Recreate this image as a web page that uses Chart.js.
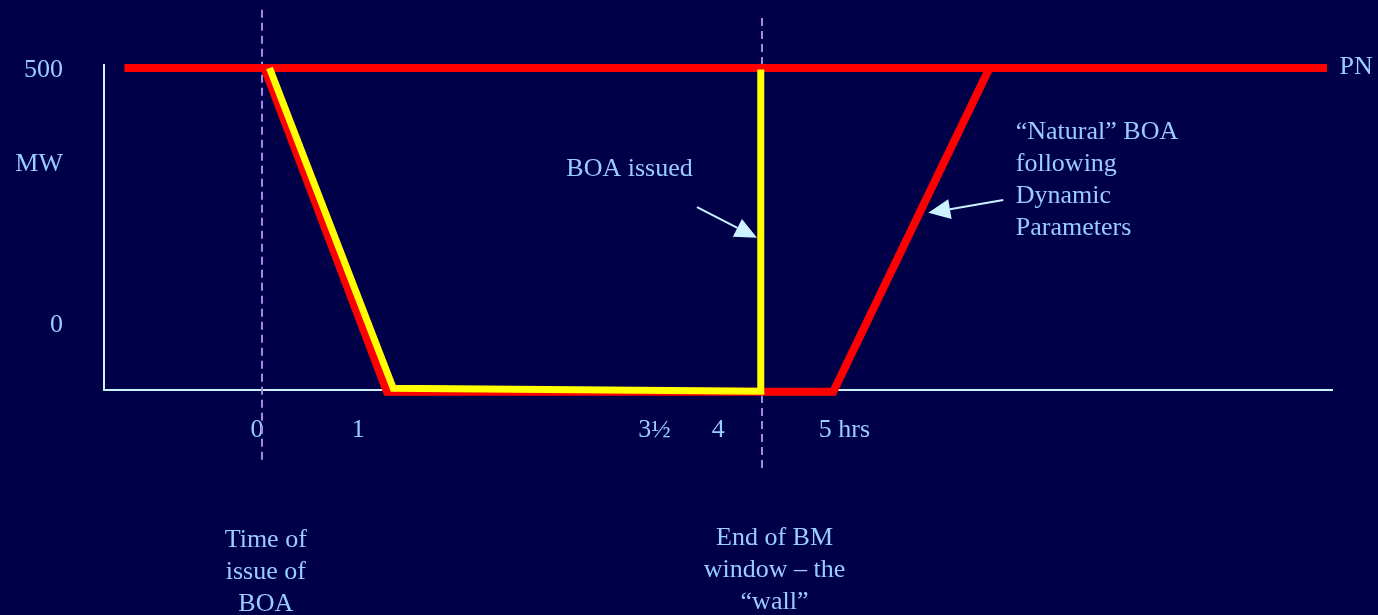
<!DOCTYPE html>
<html>
<head>
<meta charset="utf-8">
<script src="https://cdn.jsdelivr.net/npm/chart.js@4/dist/chart.umd.min.js"></script>
<style>
  html, body { margin: 0; padding: 0; background: #000048; }
  #wrap { width: 1378px; height: 615px; }
</style>
</head>
<body>
<div id="wrap"><canvas id="chart" width="1378" height="615"></canvas></div>
<script>
// Time axis in hours, output in MW
const pnHours = [-1.1, 8.52];
const pnMW = [500, 500];

// "natural" BOA following dynamic parameters (red)
const naturalHours = [0.02, 1.0, 4.57, 5.82];
const naturalMW = [500, -135, -135, 500];

// BOA as issued, cut off at the wall (yellow)
const boaHours = [0.06, 1.05, 3.99, 3.99];
const boaMW = [500, -128, -134, 497];

// tick labels
const xTickValues = [-0.04, 0.77, 3.14, 3.65, 4.66];
const xTickLabels = ['0', '1', '3½', '4', '5 hrs'];
const yTickValues = [0, 316, 500];
const yTickLabels = ['0', 'MW', '500'];

// vertical markers: time of issue, end of BM window
const markerHours = [0, 4];

const TEXT = '#99ccff';
const AXIS = '#ccf2ff';
const FONT = '"Liberation Serif", "Times New Roman", serif';

const toPts = (xs, ys) => xs.map((x, i) => ({ x: x, y: ys[i] }));

const notes = [
  { x: 2.94, y: 302, lines: ['BOA issued'], align: 'center' },
  { x: 8.62, y: 501, lines: ['PN'], align: 'left' },
  { x: 6.03, y: 375, lines: ['\u201cNatural\u201d BOA', 'following', 'Dynamic', 'Parameters'], align: 'left' },
  { x: 0.03, y: -426, lines: ['Time of', 'issue of', 'BOA'], align: 'center' },
  { x: 4.1, y: -422, lines: ['End of BM', 'window \u2013 the', '\u201cwall\u201d'], align: 'center' }
];

const arrows = [
  { from: [3.48, 227], to: [3.96, 167] },
  { from: [5.93, 241], to: [5.33, 216] }
];

const diagram = {
  id: 'diagram',
  beforeDraw(chart) {
    const c = chart.ctx;
    c.save();
    c.fillStyle = '#000048';
    c.fillRect(0, 0, chart.width, chart.height);
    c.restore();
  },
  beforeDatasetsDraw(chart) {
    const c = chart.ctx, xs = chart.scales.x, ys = chart.scales.y;
    c.save();
    c.strokeStyle = '#a884ea';
    c.lineWidth = 2;
    c.setLineDash([8, 5]);
    markerHours.forEach((h, i) => {
      const px = Math.round(xs.getPixelForValue(h));
      c.beginPath();
      c.moveTo(px, ys.getPixelForValue(i === 0 ? 614 : 598));
      c.lineTo(px, ys.getPixelForValue(i === 0 ? -275 : -289));
      c.stroke();
    });
    c.restore();
  },
  afterDraw(chart) {
    const c = chart.ctx, xs = chart.scales.x, ys = chart.scales.y;
    c.save();
    // arrows
    c.strokeStyle = AXIS;
    c.fillStyle = AXIS;
    c.lineWidth = 2;
    arrows.forEach(a => {
      const x1 = xs.getPixelForValue(a.from[0]), y1 = ys.getPixelForValue(a.from[1]);
      const x2 = xs.getPixelForValue(a.to[0]), y2 = ys.getPixelForValue(a.to[1]);
      const ang = Math.atan2(y2 - y1, x2 - x1);
      const len = 22, half = 10;
      const bx = x2 - len * Math.cos(ang), by = y2 - len * Math.sin(ang);
      c.beginPath();
      c.moveTo(x1, y1);
      c.lineTo(bx, by);
      c.stroke();
      c.beginPath();
      c.moveTo(x2, y2);
      c.lineTo(bx + half * Math.sin(ang), by - half * Math.cos(ang));
      c.lineTo(bx - half * Math.sin(ang), by + half * Math.cos(ang));
      c.closePath();
      c.fill();
    });
    // text notes
    c.fillStyle = TEXT;
    c.font = '26px ' + FONT;
    c.textBaseline = 'middle';
    notes.forEach(n => {
      c.textAlign = n.align;
      const px = xs.getPixelForValue(n.x);
      const py = ys.getPixelForValue(n.y);
      n.lines.forEach((t, i) => c.fillText(t, px, py + i * 32));
    });
    c.restore();
  }
};

new Chart(document.getElementById('chart'), {
  type: 'line',
  data: {
    datasets: [
      { data: toPts(pnHours, pnMW), borderColor: '#ff0000', borderWidth: 8, borderCapStyle: 'butt', clip: false, order: 3 },
      { data: toPts(naturalHours, naturalMW), borderColor: '#ff0000', borderWidth: 8, borderJoinStyle: 'miter', clip: false, order: 2 },
      { data: toPts(boaHours, boaMW), borderColor: '#ffff00', borderWidth: 7, borderJoinStyle: 'miter', clip: false, order: 1 }
    ]
  },
  options: {
    responsive: false,
    animation: false,
    events: [],
    layout: { padding: { top: 65, right: 46, left: 0, bottom: 0 } },
    elements: { point: { radius: 0 }, line: { tension: 0, fill: false } },
    plugins: { legend: { display: false }, tooltip: { enabled: false } },
    scales: {
      x: {
        type: 'linear',
        min: -1.264,
        max: 8.56,
        grid: { display: false, drawTicks: false },
        border: { display: true, color: AXIS, width: 2 },
        afterFit: s => { s.height = 225; },
        afterBuildTicks: s => { s.ticks = xTickValues.map(v => ({ value: v })); },
        ticks: {
          autoSkip: false,
          maxRotation: 0,
          padding: 25,
          color: TEXT,
          font: { family: FONT, size: 26 },
          callback: (v, i) => xTickLabels[i]
        }
      },
      y: {
        min: -131.4,
        max: 505.9,
        grid: { display: false, drawTicks: false },
        border: { display: true, color: AXIS, width: 2 },
        afterFit: s => { s.width = 104; },
        afterBuildTicks: s => { s.ticks = yTickValues.map(v => ({ value: v })); },
        ticks: {
          autoSkip: false,
          padding: 41,
          labelOffset: 2,
          color: TEXT,
          font: { family: FONT, size: 26 },
          callback: (v, i) => yTickLabels[i]
        }
      }
    }
  },
  plugins: [diagram]
});
</script>
</body>
</html>
